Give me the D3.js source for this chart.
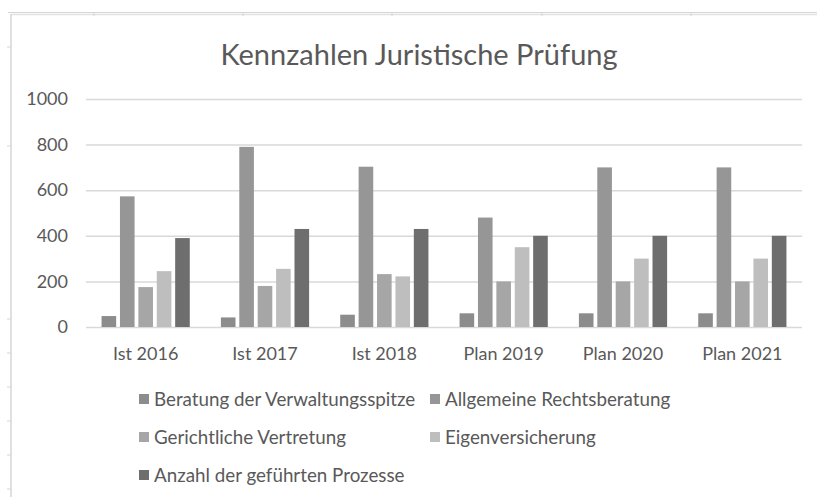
<!DOCTYPE html>
<html>
<head>
<meta charset="utf-8">
<script src="https://cdn.jsdelivr.net/npm/d3@7"></script>
<style>
  body { margin: 0; background: #fff; }
  text { font-family: Lato, "Open Sans", sans-serif; fill: #595959; }
</style>
</head>
<body>
<div id="vis"></div>
<script>
// chart data
var categories = ["Ist 2016", "Ist 2017", "Ist 2018", "Plan 2019", "Plan 2020", "Plan 2021"];
var series = ["Beratung der Verwaltungsspitze", "Allgemeine Rechtsberatung", "Gerichtliche Vertretung", "Eigenversicherung", "Anzahl der geführten Prozesse"];
var beratung    = [48, 42, 54, 60, 60, 60];
var allgemeine  = [573, 790, 703, 480, 700, 700];
var gericht     = [175, 180, 232, 200, 200, 200];
var eigen       = [245, 255, 222, 350, 300, 300];
var prozesse    = [390, 430, 430, 400, 400, 400];
var yTicks = [0, 200, 400, 600, 800, 1000];
var colors = ["#8c8c8c", "#969696", "#a6a6a6", "#bebebe", "#6e6e6e"];

var W = 817, H = 497;
var pLeft = 86, pRight = 802, pTop = 99, pBottom = 327;

var values = [beratung, allgemeine, gericht, eigen, prozesse];

var svg = d3.select("#vis").append("svg")
  .attr("width", W)
  .attr("height", H);

// spreadsheet remnants behind the chart
var edge = "#d6d6d6";
svg.append("line").attr("x1", 8).attr("x2", W).attr("y1", 12.5).attr("y2", 12.5)
  .attr("stroke", edge).attr("stroke-width", 1);
svg.append("line").attr("x1", 11).attr("x2", W).attr("y1", 14.5).attr("y2", 14.5)
  .attr("stroke", "#e2e2e2").attr("stroke-width", 1.5);
svg.append("line").attr("x1", 11).attr("x2", 11).attr("y1", 14).attr("y2", H)
  .attr("stroke", edge).attr("stroke-width", 1.5);
[94, 243, 392, 542, 691].forEach(function(x){
  svg.append("line").attr("x1", x).attr("x2", x).attr("y1", 12).attr("y2", 16)
    .attr("stroke", edge);
});
[47, 146, 319, 353, 387, 421, 455, 489].forEach(function(y){
  svg.append("line").attr("x1", 7).attr("x2", 11).attr("y1", y).attr("y2", y)
    .attr("stroke", edge);
});

var x0 = d3.scaleBand().domain(categories).range([pLeft, pRight])
  .paddingInner(0.229).paddingOuter(0.1145);
var x1 = d3.scaleBand().domain(series).range([0, x0.bandwidth()])
  .paddingInner(0.206).paddingOuter(0.103);
var y = d3.scaleLinear().domain([0, 1000]).range([pBottom, pTop]);

// title
svg.append("text")
  .attr("x", 419).attr("y", 65)
  .attr("text-anchor", "middle")
  .style("font-size", "29px")
  .text("Kennzahlen Juristische Prüfung");

// gridlines + y labels
var yAxis = d3.axisLeft(y).tickValues(yTicks).tickSize(-(pRight - pLeft)).tickPadding(18)
  .tickFormat(d3.format("d"));
var ga = svg.append("g").attr("transform", "translate(" + pLeft + ",0)").call(yAxis);
ga.select(".domain").remove();
ga.selectAll(".tick line").attr("stroke", "#d9d9d9").attr("stroke-width", 1.5);
ga.selectAll(".tick text").style("font-size", "18px").style("font-family", "Lato, sans-serif").attr("fill", "#595959");

// bars
var groups = svg.selectAll(".grp")
  .data(categories)
  .enter().append("g")
  .attr("class", "grp")
  .attr("transform", function(d){ return "translate(" + x0(d) + ",0)"; });

groups.selectAll("rect")
  .data(function(d, i){
    return series.map(function(s, j){ return { s: s, j: j, v: values[j][i] }; });
  })
  .enter().append("rect")
  .attr("x", function(d){ return x1(d.s); })
  .attr("width", x1.bandwidth())
  .attr("y", function(d){ return y(d.v); })
  .attr("height", function(d){ return pBottom - y(d.v); })
  .attr("fill", function(d){ return colors[d.j]; });

// x labels
var xAxis = d3.axisBottom(x0).tickSize(0).tickPadding(20);
var gx = svg.append("g").attr("transform", "translate(0," + pBottom + ")").call(xAxis);
gx.select(".domain").remove();
gx.selectAll(".tick text").style("font-size", "18px").style("font-family", "Lato, sans-serif").attr("fill", "#595959");

// legend
var legendPos = [
  { x: 139, y: 399 }, { x: 430, y: 399 },
  { x: 139, y: 437 }, { x: 430, y: 437 },
  { x: 139, y: 475 }
];
var lg = svg.selectAll(".leg")
  .data(series)
  .enter().append("g")
  .attr("class", "leg")
  .attr("transform", function(d, i){ return "translate(" + legendPos[i].x + "," + legendPos[i].y + ")"; });
lg.append("rect")
  .attr("x", 0).attr("y", -5).attr("width", 10).attr("height", 10)
  .attr("fill", function(d, i){ return colors[i]; });
lg.append("text")
  .attr("x", 15).attr("dy", "0.36em")
  .style("font-size", "18.8px")
  .text(function(d){ return d; });
</script>
</body>
</html>
